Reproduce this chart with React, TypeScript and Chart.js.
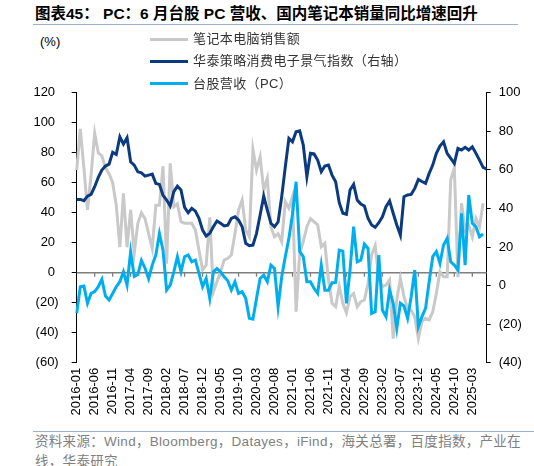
import React, { useEffect, useRef } from "react";
import { Chart, registerables } from "chart.js";

Chart.register(...registerables);

// Monthly categories 2016-01 .. 2025-07
const startYear = 2016;
const monthCount = 115;
const months: string[] = [];
for (let i = 0; i < monthCount; i++) {
  const y = startYear + Math.floor(i / 12);
  const m = (i % 12) + 1;
  months.push(`${y}-${m < 10 ? "0" + m : m}`);
}

// 笔记本电脑销售额 (%), left axis
const laptopSales: number[] = [
  68.5, 96, 70, 42, 65, 93, 80, 78, 70, 66,
  60, 45, 17, 53, 17, 42, 13, 33, 40, 36,
  26, 16, 45, 45, 71, 6, 73, 44, 46, 34,
  33, 33, 33, 28.5, 15, 2, 5, 37, -12.7, -6,
  0.6, 8.4, 9.6, 11.8, 26, 41.8, 48.5, 28.5, 24, 82.2,
  68.5, 77.3, 55, 63, 30.7, 24, 26, 20.7, 47.4, 43,
  50.7, -26, 13, 20.7, 30.7, 36, 34, 32, 17.3, 19.6,
  -4.9, -20.4, -22.7, -9, -20.4, -26.7, -16, -13.8, -22.7, -19.3,
  -18.2, -7, 12, 18, -4, -9.3, -8.2, -4.9, -44, -18,
  -3.8, -16, -23.8, -24.9, -29.3, -43.8, -32.7, -30.4, -31.5, -26,
  -13.8, 0.6, -2.7, -2.7, 62, 70, -3, 46.3, 28.5, 31.8,
  24, 36.2, 30.7, 46.3,
];

// 华泰策略消费电子景气指数 (right axis)
const ceIndex: number[] = [
  44.7, 44.7, 44.0, 46.4, 47.3, 51.3, 56.1, 59.9, 62.0, 63.0,
  69.1, 68.0, 77.2, 73.4, 76.7, 64.2, 62.5, 59.0, 58.5, 56.8,
  57.3, 57.8, 53.0, 52.5, 46.8, 44.4, 41.3, 48.7, 51.6, 49.6,
  40.6, 37.8, 40.1, 38.6, 34.9, 28.8, 25.7, 27.1, 30.5, 33.5,
  32.3, 30.9, 31.3, 34.9, 35.7, 34.0, 30.5, 21.9, 20.7, 21.0,
  27.1, 36.6, 46.4, 39.2, 32.3, 30.5, 33.0, 46.1, 61.6, 76.4,
  74.6, 79.8, 80.3, 72.9, 56.5, 68.6, 68.3, 65.1, 59.1, 62.0,
  62.5, 57.3, 53.9, 43.0, 37.5, 37.0, 49.6, 52.5, 44.4, 42.3,
  41.3, 34.9, 31.4, 30.2, 32.6, 35.7, 40.9, 43.9, 37.5, 31.4,
  26.2, 46.1, 47.0, 47.3, 50.4, 55.1, 54.0, 53.0, 58.2, 62.5,
  68.6, 72.4, 74.6, 68.6, 66.0, 63.4, 71.2, 70.3, 71.7, 70.3,
  72.0, 68.6, 65.1, 61.3, 60.4,
];

// 台股营收（PC）(%), left axis
const twPcRevenue: number[] = [
  -27, -9.3, -8.9, -20.4, -13.8, -12.6, -9.3, -4.4, -15.5, -18.2,
  -13.8, -9.3, -6, 0.7, -8.2, 14, -2.5, -1.2, 8.2, 3,
  -4, 5.1, 11.8, 26.2, 15, -11.6, -8.2, 0.6, 10.7, 0.6,
  10.7, 11.8, 7.3, 8.4, -0.5, -9.3, -3.8, -17.1, 0.6, 2.8,
  0.6, -2.7, -5.4, -11.6, -6, -13.8, -12.7, -17.1, -30.4, -31,
  -17.1, -3.8, -1.6, -6, 5.1, 2.8, -22.7, -2.7, 10.7, 22.9,
  39, 60.7, 14.1, 10.7, -6, -6, -10.5, -13.8, 5.1, -11.6,
  -11.6, -6.7, -6.5, 15.1, 14.4, -20.4, 1.8, 30.7, 7.3, 8.4,
  19.1, 16.2, -27.1, -26, 11.8, -24.9, -29.3, -11.6, -20.4, -37.1,
  -20.4, -22.2, -30.4, -16, 1.8, -36, -29.3, -23.8, -6, 10.7,
  14.1, 6.3, 18.5, 22.9, 7.3, 5.1, 1.8, 39.6, 5.1, 51.8,
  33, 30.7, 24, 25.8,
];

const seriesNames = ["笔记本电脑销售额", "华泰策略消费电子景气指数（右轴）", "台股营收（PC）"];
const seriesColors = ["#C9C9C9", "#0B3A7E", "#00AEEF"];

const leftMin = -60, leftMax = 120, rightMin = -40, rightMax = 100, tickStep = 20;
const labelEvery = 5;

const fmtNeg = (v: number) => (v < 0 ? `(${-v})` : `${v}`);

const zeroLinePlugin = {
  id: "zeroLine",
  beforeDatasetsDraw(chart: any) {
    const { ctx, chartArea, scales } = chart;
    const y0 = scales.y.getPixelForValue(0);
    ctx.save();
    ctx.strokeStyle = "#7F7F7F";
    ctx.lineWidth = 1.3;
    ctx.beginPath();
    ctx.moveTo(chartArea.left, y0);
    ctx.lineTo(chartArea.right, y0);
    for (let i = labelEvery; i < months.length; i += labelEvery) {
      const x = scales.x.getPixelForValue(i);
      ctx.moveTo(x, y0);
      ctx.lineTo(x, y0 + 4);
    }
    ctx.stroke();
    ctx.restore();
  },
};

export default function App() {
  const canvasRef = useRef<HTMLCanvasElement>(null);

  useEffect(() => {
    const font = { family: "'Liberation Sans', Arial, sans-serif", size: 13 };
    const chart = new Chart(canvasRef.current as HTMLCanvasElement, {
      type: "line",
      data: {
        labels: months,
        datasets: [
          {
            label: seriesNames[0],
            data: laptopSales,
            borderColor: seriesColors[0],
            backgroundColor: seriesColors[0],
            borderWidth: 3,
            pointRadius: 0,
            yAxisID: "y",
            order: 3,
          },
          {
            label: seriesNames[1],
            data: ceIndex,
            borderColor: seriesColors[1],
            backgroundColor: seriesColors[1],
            borderWidth: 3,
            pointRadius: 0,
            yAxisID: "y1",
            order: 2,
          },
          {
            label: seriesNames[2],
            data: twPcRevenue,
            borderColor: seriesColors[2],
            backgroundColor: seriesColors[2],
            borderWidth: 3,
            pointRadius: 0,
            yAxisID: "y",
            order: 1,
          },
        ],
      },
      options: {
        responsive: false,
        animation: false,
        layout: { padding: { top: 12.7, left: 0, right: 0, bottom: 0 } },
        plugins: { legend: { display: false }, tooltip: { enabled: false } },
        elements: { line: { tension: 0 } },
        scales: {
          x: {
            type: "category",
            offset: false,
            grid: { display: false, drawTicks: false },
            border: { display: false },
            ticks: {
              autoSkip: false,
              minRotation: 90,
              maxRotation: 90,
              padding: 5,
              color: "#000",
              font,
              callback: (_v: any, i: number) => (i % labelEvery === 0 ? months[i] : null),
            },
            afterFit: (s: any) => {
              s.height = 67.3;
            },
          },
          y: {
            position: "left",
            min: leftMin,
            max: leftMax,
            grid: { drawOnChartArea: false, drawTicks: true, tickLength: 5, color: "#000" },
            border: { display: true, color: "#000", width: 1 },
            ticks: {
              stepSize: tickStep,
              padding: 13,
              color: "#000",
              font,
              callback: (v: any) => (v < 0 ? fmtNeg(v) : `${v} `),
            },
            afterFit: (s: any) => {
              s.width = 76.7;
            },
          },
          y1: {
            position: "right",
            min: rightMin,
            max: rightMax,
            grid: { drawOnChartArea: false, drawTicks: true, tickLength: 4, color: "#000" },
            border: { display: true, color: "#000", width: 1 },
            ticks: {
              stepSize: tickStep,
              padding: 8,
              color: "#000",
              font,
              callback: (v: any) => fmtNeg(v),
            },
            afterFit: (s: any) => {
              s.width = 47.3;
            },
          },
        },
      },
      plugins: [zeroLinePlugin],
    });
    return () => chart.destroy();
  }, []);

  const cjk = "'Liberation Sans', 'Noto Sans CJK SC', sans-serif";

  return (
    <div
      style={{
        position: "absolute",
        left: 0,
        top: 0,
        width: 534,
        height: 466,
        overflow: "hidden",
        background: "#fff",
        fontFamily: cjk,
      }}
    >
      <div
        style={{
          position: "absolute",
          left: 35,
          top: 4,
          fontSize: 15.5,
          fontWeight: "bold",
          lineHeight: "20px",
          color: "#000",
          whiteSpace: "nowrap",
        }}
      >
        图表45：&nbsp;PC：6 月台股 PC 营收、国内笔记本销量同比增速回升
      </div>
      <div style={{ position: "absolute", left: 33, top: 24, width: 485, height: 1.3, background: "#9DB3CC" }} />

      <canvas
        ref={canvasRef}
        width={534}
        height={358}
        style={{ position: "absolute", left: 0, top: 72, width: 534, height: 358 }}
      />

      <div style={{ position: "absolute", left: 40, top: 34, fontSize: 13, lineHeight: "16px", color: "#000" }}>(%)</div>

      {seriesNames.map((name, k) => (
        <div key={name} style={{ position: "absolute", left: 150, top: 29 + k * 22.3, height: 20, whiteSpace: "nowrap" }}>
          <div
            style={{
              position: "absolute",
              left: 0,
              top: 8.5,
              width: 38,
              height: 3,
              background: seriesColors[k],
            }}
          />
          <div
            style={{
              position: "absolute",
              left: 43,
              top: 0,
              fontSize: 13,
              lineHeight: "20px",
              letterSpacing: 0.4,
              color: "#333",
            }}
          >
            {name}
          </div>
        </div>
      ))}

      <div style={{ position: "absolute", left: 33, top: 430.5, width: 501, height: 1.3, background: "#9DB3CC" }} />
      <div
        style={{
          position: "absolute",
          left: 35,
          top: 432,
          width: 492,
          fontSize: 13.5,
          lineHeight: "20px",
          letterSpacing: 0.3,
          color: "#808080",
        }}
      >
        资料来源：Wind，Bloomberg，Datayes，iFind，海关总署，百度指数，产业在线，华泰研究
      </div>
    </div>
  );
}
